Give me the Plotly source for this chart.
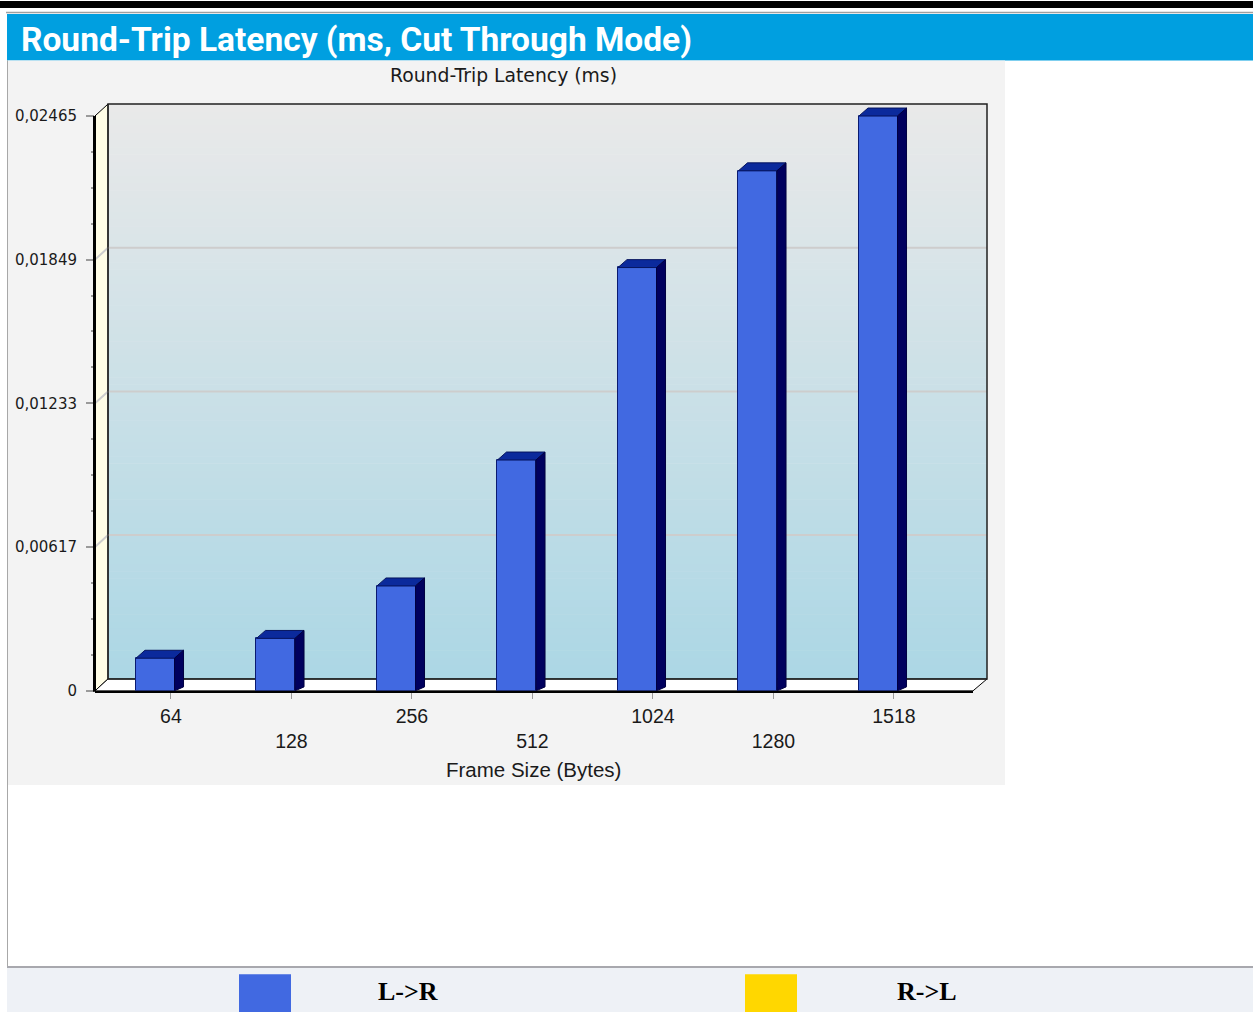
import plotly.graph_objects as go

# ---------------- data ----------------
frame_sizes = ["64", "128", "256", "512", "1024", "1280", "1518"]
latency_lr = [0.00140, 0.00225, 0.00450, 0.00990, 0.01815, 0.02230, 0.02465]
y_tick_vals = [0, 0.00617, 0.01233, 0.01849, 0.02465]
y_tick_text = ["0", "0,00617", "0,01233", "0,01849", "0,02465"]
legend_names = ["L->R", "R->L"]
legend_colors = ["#4169E1", "#FFD700"]

# ---------------- geometry helpers ----------------
W, H = 1253, 1021


def px(x):
    return x / W


def py(y):
    return 1 - y / H


PL, PR, PT, PB = 95, 973, 117, 697      # front plotting box (pixels)
SLOT = 120.5                            # pixels per category
YMAX = y_tick_vals[-1]
EXTRA = 16                              # headroom above the top tick (pixels)
XR = [-0.5, -0.5 + (PR - PL) / SLOT]
DX, DY = 13, 12                         # wall depth (pixels)
BDX, BDY = 9, 8                         # bar depth (pixels)
BW = 0.32                               # bar width (category units)


def ypix(v):
    return PB - v / YMAX * (PB - PT)


xs = list(range(len(frame_sizes)))

fig = go.Figure()
fig.add_trace(go.Bar(
    x=xs, y=latency_lr, width=BW, name=legend_names[0],
    marker=dict(color=legend_colors[0], line=dict(color="#0a1a70", width=1)),
    showlegend=False,
))

shapes = []
# header
shapes.append(dict(type="rect", xref="paper", yref="paper", x0=0, x1=1, y0=py(8), y1=py(1),
                   fillcolor="#000000", line_width=0, layer="below"))
shapes.append(dict(type="line", xref="paper", yref="paper", x0=px(6), x1=1, y0=py(12.5), y1=py(12.5),
                   line=dict(color="#a0a0a0", width=1.5), layer="below"))
shapes.append(dict(type="rect", xref="paper", yref="paper", x0=px(7), x1=1, y0=py(61), y1=py(14),
                   fillcolor="#009FE0", line_width=0, layer="below"))
# chart panel
shapes.append(dict(type="rect", xref="paper", yref="paper", x0=px(8), x1=px(1005), y0=py(792), y1=py(61),
                   fillcolor="#f3f3f3", line_width=0, layer="below"))
# left border & bottom border
shapes.append(dict(type="line", xref="paper", yref="paper", x0=px(7.5), x1=px(7.5), y0=py(975), y1=py(61),
                   line=dict(color="#a8a8a8", width=1), layer="below"))
shapes.append(dict(type="rect", xref="paper", yref="paper", x0=px(7), x1=1, y0=0, y1=py(976),
                   fillcolor="#eef1f6", line_width=0, layer="below"))
shapes.append(dict(type="line", xref="paper", yref="paper", x0=px(7), x1=1, y0=py(975.5), y1=py(975.5),
                   line=dict(color="#a8a8ae", width=2), layer="below"))

# back wall gradient
BL, BR, BT, BB = PL + DX, PR + DX + 1, PT - DY, PB - DY
top_c = (233, 233, 233)
bot_c = (172, 215, 229)
N = 80
for k in range(N):
    t = k / (N - 1)
    c = tuple(round(top_c[j] + (bot_c[j] - top_c[j]) * t) for j in range(3))
    y0 = BT + (BB - BT) * k / N
    y1 = BT + (BB - BT) * (k + 1) / N
    shapes.append(dict(type="rect", xref="paper", yref="paper", x0=px(BL), x1=px(BR),
                       y0=py(y1 + 0.5), y1=py(y0), fillcolor="rgb(%d,%d,%d)" % c,
                       line_width=0, layer="below"))

# side wall
shapes.append(dict(type="path", xref="paper", yref="paper",
                   path="M %f %f L %f %f L %f %f L %f %f Z" % (px(PL), py(PT), px(BL), py(BT),
                                                               px(BL), py(BB), px(PL), py(PB)),
                   fillcolor="#fffde6", line=dict(color="#000000", width=1), layer="below"))

# gridlines on back & side walls
for v in y_tick_vals[1:-1]:
    yf = ypix(v)
    shapes.append(dict(type="line", xref="paper", yref="paper", x0=px(BL), x1=px(BR),
                       y0=py(yf - DY), y1=py(yf - DY), line=dict(color="#cdcdcd", width=2), layer="below"))
    shapes.append(dict(type="line", xref="paper", yref="paper", x0=px(PL), x1=px(BL),
                       y0=py(yf), y1=py(yf - DY), line=dict(color="#cdcdcd", width=2), layer="below"))

# floor
shapes.append(dict(type="path", xref="paper", yref="paper",
                   path="M %f %f L %f %f L %f %f L %f %f Z" % (px(PL), py(PB), px(PR), py(PB),
                                                               px(BR), py(BB), px(BL), py(BB)),
                   fillcolor="#ffffff", line=dict(color="#000000", width=1), layer="below"))
# back wall outline
shapes.append(dict(type="rect", xref="paper", yref="paper", x0=px(BL), x1=px(BR), y0=py(BB), y1=py(BT),
                   line=dict(color="#202020", width=1.5), fillcolor="rgba(0,0,0,0)", layer="below"))
# front vertical axis line
shapes.append(dict(type="line", xref="paper", yref="paper", x0=px(PL - 0.5), x1=px(PL - 0.5),
                   y0=py(PB + 1), y1=py(PT),
                   line=dict(color="#000000", width=3), layer="above"))

# 3D faces of bars (computed from data)
ux = BDX / SLOT
uy = BDY / (PB - PT) * YMAX
for i, v in zip(xs, latency_lr):
    xl, xr_ = i - BW / 2, i + BW / 2
    shapes.append(dict(type="path", xref="x", yref="y",
                       path="M %f %f L %f %f L %f %f L %f %f Z" % (xl, v, xl + ux, v + uy, xr_ + ux, v + uy, xr_, v),
                       fillcolor="#0b2a9c", line=dict(color="#06145e", width=1), layer="above"))
    shapes.append(dict(type="path", xref="x", yref="y",
                       path="M %f %f L %f %f L %f %f L %f %f Z" % (xr_, v, xr_ + ux, v + uy, xr_ + ux, uy * 0.5, xr_, 0),
                       fillcolor="#00005e", line=dict(color="#000040", width=1), layer="above"))

# legend swatches
leg_x = [(239, 291), (745, 797)]
for (a, b), col in zip(leg_x, legend_colors):
    shapes.append(dict(type="rect", xref="paper", yref="paper", x0=px(a), x1=px(b), y0=0, y1=py(983),
                       fillcolor=col, line_width=0, layer="below"))

annotations = [
    dict(text="<b>Round-Trip Latency (ms, Cut Through Mode)</b>", xref="paper", yref="paper",
         x=px(19), y=py(40), xanchor="left", yanchor="middle", showarrow=False,
         font=dict(family="Roboto", size=33.5, color="#ffffff")),
    dict(text="Round-Trip Latency (ms)", xref="paper", yref="paper", x=px(503), y=py(76),
         xanchor="center", yanchor="middle", showarrow=False,
         font=dict(family="DejaVu Sans", size=18.8, color="#1a1a1a")),
    dict(text="Frame Size (Bytes)", xref="paper", yref="paper", x=px(533), y=py(776),
         xanchor="center", yanchor="middle", showarrow=False,
         font=dict(family="Liberation Sans", size=20.5, color="#1a1a1a")),
]
leg_tx = [408, 927]
for name, cx in zip(legend_names, leg_tx):
    annotations.append(dict(text="<b>%s</b>" % name, xref="paper", yref="paper", x=px(cx), y=py(1000),
                            xanchor="center", yanchor="middle", showarrow=False,
                            font=dict(family="Liberation Serif", size=26, color="#000000")))

# x tick labels staggered in two rows
x_tick_vals = [i + 0.13 for i in xs]
x_tick_text = [s if i % 2 == 0 else "<br>" + s for i, s in enumerate(frame_sizes)]

minor_vals = []
for a, b in zip(y_tick_vals[:-1], y_tick_vals[1:]):
    minor_vals += [a + (b - a) * k / 4 for k in (1, 2, 3)]

YTOP = YMAX * (PB - PT + EXTRA) / (PB - PT)

fig.update_layout(
    width=W, height=H, margin=dict(l=0, r=0, t=0, b=0),
    paper_bgcolor="#ffffff", plot_bgcolor="rgba(0,0,0,0)",
    shapes=shapes, annotations=annotations, showlegend=False, bargap=0,
    xaxis=dict(domain=[px(PL), px(PR)], range=XR, tickmode="array", tickvals=x_tick_vals,
               ticktext=x_tick_text, ticks="outside", ticklen=6, tickcolor="#9a9a9a", tickwidth=1,
               showline=True, linecolor="#000000", linewidth=1.5, showgrid=False, zeroline=False,
               ticklabelstandoff=1,
               tickfont=dict(family="Liberation Sans", size=19.5, color="#1a1a1a"), fixedrange=True),
    yaxis=dict(domain=[py(PB), py(PT - EXTRA)], range=[0, YTOP], tickmode="array", tickvals=y_tick_vals,
               ticktext=y_tick_text, ticks="outside", ticklen=8, tickcolor="#9a9a9a", tickwidth=1.5,
               minor=dict(tickvals=minor_vals, ticks="outside", ticklen=3, tickcolor="#9a9a9a"),
               showline=False, showgrid=False, zeroline=False,
               ticklabelstandoff=6,
               tickfont=dict(family="DejaVu Sans", size=15, color="#1a1a1a"), fixedrange=True),
)

fig.write_html(
    "out.html",
    config={"displayModeBar": False},
    post_script="document.body.style.margin='0';document.body.style.padding='0';",
)
